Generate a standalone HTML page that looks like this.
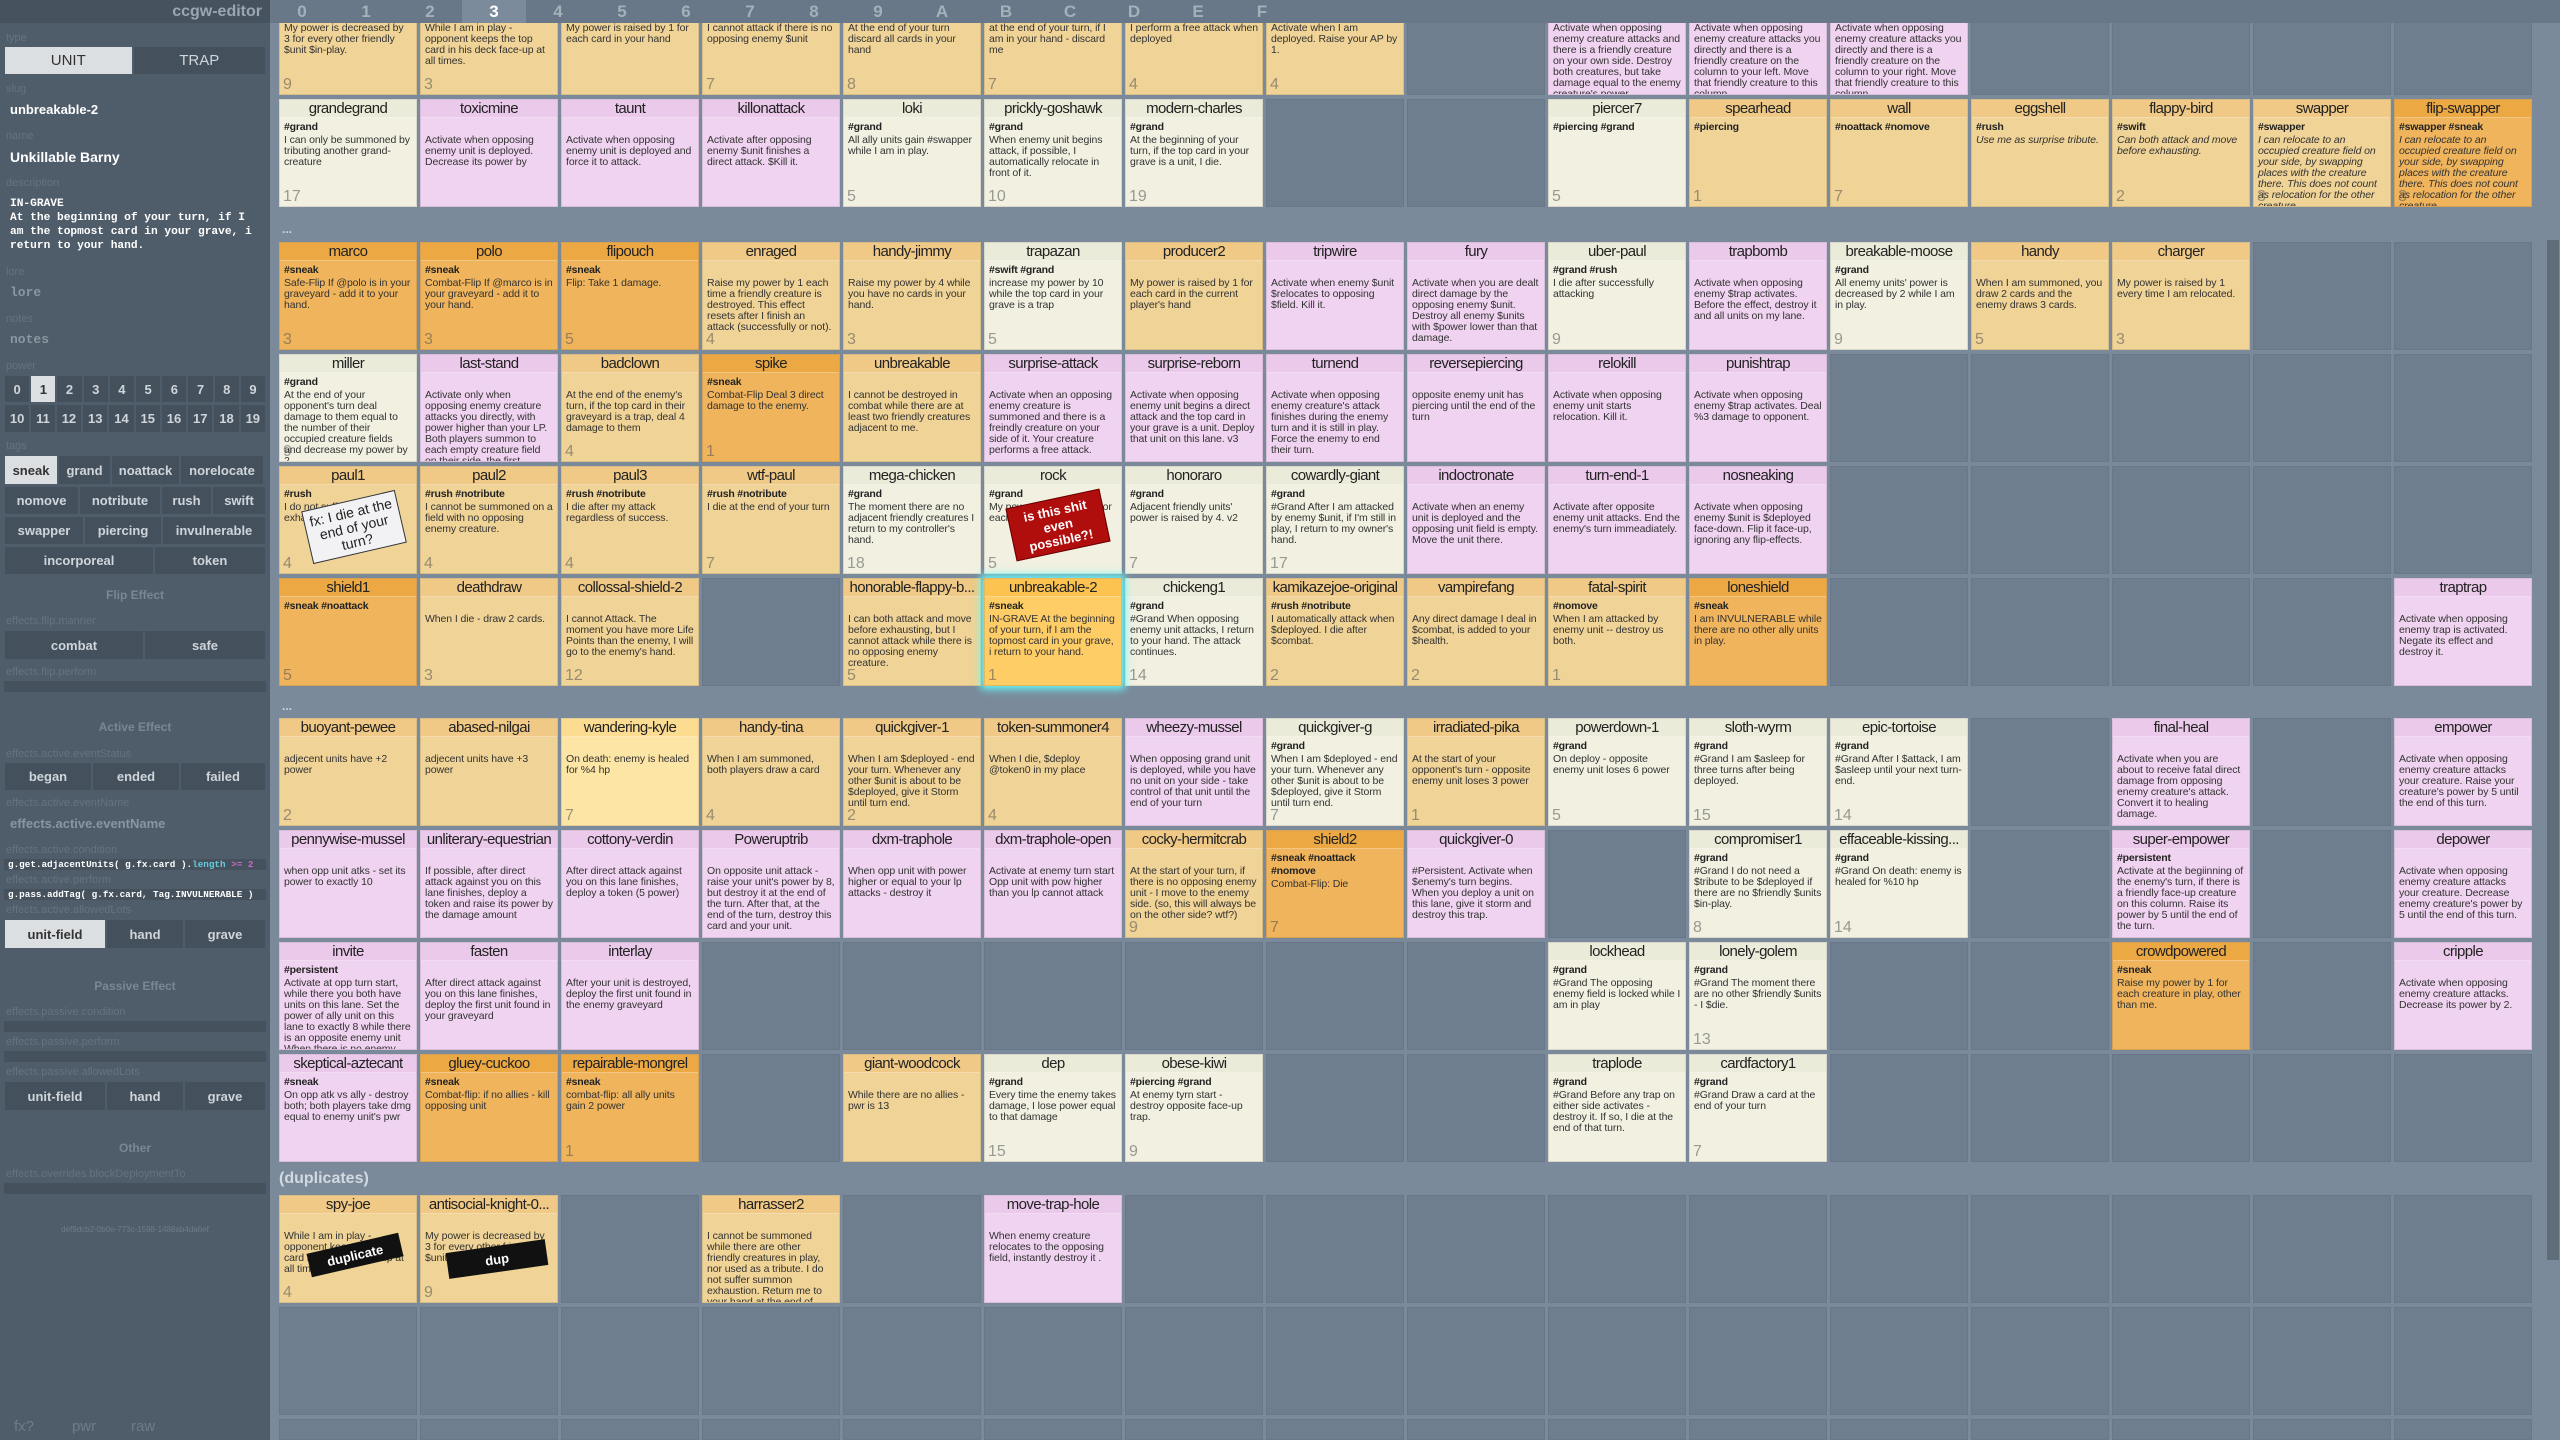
<!DOCTYPE html>
<html style="width:2560px;height:1440px;overflow:hidden"><head><meta charset="utf-8">
<style>
*{box-sizing:border-box;margin:0;padding:0}
body{width:2560px;height:1440px;overflow:hidden;background:#7a8a9a;font-family:"Liberation Sans",sans-serif;position:relative}
#side{position:absolute;left:0;top:0;width:270px;height:1440px;background:#4f5c69;color:#fff;overflow:hidden;z-index:4}
#side .l{position:absolute;left:6px;font-size:11px;color:#66737f}
#side .h{position:absolute;left:0;width:270px;text-align:center;font-size:12px;font-weight:bold;color:#7b8793}
.btns{position:absolute;left:5px;width:260px;display:flex;gap:2px}
.btns div{background:#44505c;color:#cfd5db;font-weight:bold;font-size:13px;display:flex;align-items:center;justify-content:center;flex:1 1 auto}
.btns div.on{background:#dcdfe2;color:#333}
.bar{position:absolute;left:4px;width:262px;height:11px;background:#45515d;font-family:"Liberation Mono",monospace;font-size:9.3px;font-weight:bold;color:#fff;line-height:11px;padding-left:4px;white-space:pre;overflow:hidden}
#hdr{position:absolute;left:0;top:0;width:2560px;height:23px;background:#687888;z-index:5}
#hdr .lt{position:absolute;left:0;top:0;width:270px;height:23px;background:#46525e;color:#9aa6b1;font-weight:bold;font-size:16px;text-align:right;padding-right:8px;line-height:23px}
#hdr .n{position:absolute;top:0;width:64px;height:23px;text-align:center;line-height:23px;font-weight:bold;font-size:17px;color:#a4b0bb}
#hdr .n.on{background:#7b8b9b;color:#fff}
.sec{position:absolute;left:279px;display:grid;grid-template-columns:repeat(16,138px);column-gap:3px;row-gap:4px;grid-auto-rows:108px}
.sec i{display:block;background:#6e7e8e;border:1px solid #687888}
.c{position:relative;overflow:hidden;border:1px solid rgba(0,0,0,.1);color:#222}
.c b{display:block;height:18px;line-height:18px;text-align:center;font-size:15px;font-weight:normal;white-space:nowrap;overflow:hidden;letter-spacing:-.6px;border-bottom:1px solid rgba(255,255,255,.35)}
.c u{display:block;text-decoration:none;font-size:10.5px;font-weight:bold;height:13px;line-height:13px;padding:2px 4px 0;margin-top:1px;letter-spacing:-.2px}
.c span{display:block;font-size:10.5px;line-height:11px;padding:3px 4px 0;color:#333;letter-spacing:-.1px}
.c em{position:absolute;left:3px;bottom:0;font-style:normal;font-size:16px;color:rgba(80,80,80,.55);line-height:18px}
.a{background:#f0d396}.a b{background:#efc985}
.o{background:#efb45c}.o b{background:#eca843}
.k{background:#f1f0e1}.k b{background:#ebebd9}
.p{background:#f0d3f0}.p b{background:#ebc9eb}
.y{background:#fde5a5}.y b{background:#fcdc90}
.s{background:#ffcd66;box-shadow:0 0 8px 3px #6ff;z-index:2}.s b{background:#fcc350}
.it span{font-style:italic}
.dots{position:absolute;left:282px;color:#cdd4db;font-size:12px;font-weight:bold}
.note{position:absolute;z-index:3;display:flex;align-items:center;justify-content:center;text-align:center;line-height:15px}
</style></head><body>

<div id="hdr">
<div class="lt">ccgw-editor</div>
<div class="n" style="left:270px">0</div><div class="n" style="left:334px">1</div><div class="n" style="left:398px">2</div><div class="n on" style="left:462px">3</div><div class="n" style="left:526px">4</div><div class="n" style="left:590px">5</div><div class="n" style="left:654px">6</div><div class="n" style="left:718px">7</div><div class="n" style="left:782px">8</div><div class="n" style="left:846px">9</div><div class="n" style="left:910px">A</div><div class="n" style="left:974px">B</div><div class="n" style="left:1038px">C</div><div class="n" style="left:1102px">D</div><div class="n" style="left:1166px">E</div><div class="n" style="left:1230px">F</div>
</div>

<div id="side">
<div class="l" style="top:32px">type</div>
<div class="btns" style="top:47px;height:27px"><div class="on" style="width:126px;font-weight:normal;font-size:15px">UNIT</div><div style="width:131px;font-weight:normal;font-size:15px">TRAP</div></div>
<div class="l" style="top:83px">slug</div>
<div style="position:absolute;left:10px;top:102px;font-size:13px;font-weight:bold">unbreakable-2</div>
<div class="l" style="top:130px">name</div>
<div style="position:absolute;left:10px;top:149px;font-size:14px;font-weight:bold">Unkillable Barny</div>
<div class="l" style="top:177px">description</div>
<div style="position:absolute;left:10px;top:197px;font-family:'Liberation Mono',monospace;font-weight:bold;font-size:11.2px;line-height:14px;white-space:pre">IN-GRAVE
At the beginning of your turn, if I
am the topmost card in your grave, i
return to your hand.</div>
<div class="l" style="top:266px">lore</div>
<div style="position:absolute;left:10px;top:285px;font-family:'Liberation Mono',monospace;font-weight:bold;font-size:13px;color:#8a96a1">lore</div>
<div class="l" style="top:313px">notes</div>
<div style="position:absolute;left:10px;top:332px;font-family:'Liberation Mono',monospace;font-weight:bold;font-size:13px;color:#8a96a1">notes</div>
<div class="l" style="top:360px">power</div>
<div class="btns" style="top:376px;height:26px"><div>0</div><div class="on">1</div><div>2</div><div>3</div><div>4</div><div>5</div><div>6</div><div>7</div><div>8</div><div>9</div></div>
<div class="btns" style="top:405px;height:27px"><div>10</div><div>11</div><div>12</div><div>13</div><div>14</div><div>15</div><div>16</div><div>17</div><div>18</div><div>19</div></div>
<div class="l" style="top:440px">tags</div>
<div class="btns" style="top:456px;height:28px"><div class="on" style="width:52px;flex:none">sneak</div><div style="width:51px;flex:none">grand</div><div style="width:67px;flex:none">noattack</div><div style="width:82px;flex:none">norelocate</div></div>
<div class="btns" style="top:487px;height:27px"><div style="width:73px;flex:none">nomove</div><div style="width:80px;flex:none">notribute</div><div style="width:49px;flex:none">rush</div><div style="width:52px;flex:none">swift</div></div>
<div class="btns" style="top:517px;height:27px"><div style="width:78px;flex:none">swapper</div><div style="width:76px;flex:none">piercing</div><div style="width:102px;flex:none">invulnerable</div></div>
<div class="btns" style="top:547px;height:27px"><div style="width:148px;flex:none">incorporeal</div><div style="width:110px;flex:none">token</div></div>
<div class="h" style="top:588px">Flip Effect</div>
<div class="l" style="top:615px">effects.flip.manner</div>
<div class="btns" style="top:631px;height:28px"><div style="width:138px;flex:none">combat</div><div style="width:120px;flex:none">safe</div></div>
<div class="l" style="top:666px">effects.flip.perform</div>
<div class="bar" style="top:681px"></div>
<div class="h" style="top:720px">Active Effect</div>
<div class="l" style="top:748px">effects.active.eventStatus</div>
<div class="btns" style="top:763px;height:27px"><div style="width:86px;flex:none">began</div><div style="width:86px;flex:none">ended</div><div style="width:84px;flex:none">failed</div></div>
<div class="l" style="top:797px">effects.active.eventName</div>
<div style="position:absolute;left:10px;top:816px;font-size:13px;font-weight:bold;color:#8a96a1">effects.active.eventName</div>
<div class="l" style="top:844px">effects.active.condition</div>
<div class="bar" style="top:859px">g.get.adjacentUnits( g.fx.card ).<span style="color:#6cd">length</span> <span style="color:#c6c">&gt;= 2</span></div>
<div class="l" style="top:874px">effects.active.perform</div>
<div class="bar" style="top:889px">g.pass.addTag( g.fx.card, Tag.INVULNERABLE )</div>
<div class="l" style="top:904px">effects.active.allowedLots</div>
<div class="btns" style="top:920px;height:28px"><div class="on" style="width:100px;flex:none">unit-field</div><div style="width:76px;flex:none">hand</div><div style="width:80px;flex:none">grave</div></div>
<div class="h" style="top:979px">Passive Effect</div>
<div class="l" style="top:1006px">effects.passive.condition</div>
<div class="bar" style="top:1021px"></div>
<div class="l" style="top:1036px">effects.passive.perform</div>
<div class="bar" style="top:1051px"></div>
<div class="l" style="top:1066px">effects.passive.allowedLots</div>
<div class="btns" style="top:1082px;height:28px"><div style="width:100px;flex:none">unit-field</div><div style="width:76px;flex:none">hand</div><div style="width:80px;flex:none">grave</div></div>
<div class="h" style="top:1141px">Other</div>
<div class="l" style="top:1168px">effects.overrides.blockDeploymentTo</div>
<div class="bar" style="top:1183px"></div>
<div style="position:absolute;left:0;width:270px;top:1225px;text-align:center;font-size:8px;color:#6f7c88">def9dcb2-0b0e-773c-1598-1488ab4da6ef</div>
<div style="position:absolute;left:14px;top:1418px;font-size:15px;line-height:18px;color:#6f7c88">fx?</div>
<div style="position:absolute;left:72px;top:1418px;font-size:15px;line-height:18px;color:#6f7c88">pwr</div>
<div style="position:absolute;left:131px;top:1418px;font-size:15px;line-height:18px;color:#6f7c88">raw</div>
</div>

<!-- section 1 -->
<div class="sec" style="top:-13px">
<div class="c a"><b>lonely</b><u></u><span>My power is decreased by 3 for every other friendly $unit $in-play.</span><em>9</em></div>
<div class="c a"><b>spy</b><u></u><span>While I am in play - opponent keeps the top card in his deck face-up at all times.</span><em>3</em></div>
<div class="c a"><b>hoarder</b><u></u><span>My power is raised by 1 for each card in your hand</span></div>
<div class="c a"><b>coward</b><u></u><span>I cannot attack if there is no opposing enemy $unit</span><em>7</em></div>
<div class="c a"><b>discarder</b><u></u><span>At the end of your turn discard all cards in your hand</span><em>8</em></div>
<div class="c a"><b>selfdiscard</b><u></u><span>at the end of your turn, if I am in your hand - discard me</span><em>7</em></div>
<div class="c a"><b>charger2</b><u></u><span>I perform a free attack when deployed</span><em>4</em></div>
<div class="c a"><b>apper</b><u></u><span>Activate when I am deployed. Raise your AP by 1.</span><em>4</em></div>
<i></i>
<div class="c p"><b>martyr</b><u></u><span>Activate when opposing enemy creature attacks and there is a friendly creature on your own side. Destroy both creatures, but take damage equal to the enemy creature's power.</span></div>
<div class="c p"><b>leftmove</b><u></u><span>Activate when opposing enemy creature attacks you directly and there is a friendly creature on the column to your left. Move that friendly creature to this column.</span></div>
<div class="c p"><b>rightmove</b><u></u><span>Activate when opposing enemy creature attacks you directly and there is a friendly creature on the column to your right. Move that friendly creature to this column.</span></div>
<i></i><i></i><i></i><i></i>

<div class="c k"><b>grandegrand</b><u>#grand</u><span>I can only be summoned by tributing another grand-creature</span><em>17</em></div>
<div class="c p"><b>toxicmine</b><u></u><span>Activate when opposing enemy unit is deployed. Decrease its power by</span></div>
<div class="c p"><b>taunt</b><u></u><span>Activate when opposing enemy unit is deployed and force it to attack.</span></div>
<div class="c p"><b>killonattack</b><u></u><span>Activate after opposing enemy $unit finishes a direct attack. $Kill it.</span></div>
<div class="c k"><b>loki</b><u>#grand</u><span>All ally units gain #swapper while I am in play.</span><em>5</em></div>
<div class="c k"><b>prickly-goshawk</b><u>#grand</u><span>When enemy unit begins attack, if possible, I automatically relocate in front of it.</span><em>10</em></div>
<div class="c k"><b>modern-charles</b><u>#grand</u><span>At the beginning of your turn, if the top card in your grave is a unit, I die.</span><em>19</em></div>
<i></i><i></i>
<div class="c k"><b>piercer7</b><u>#piercing #grand</u><span></span><em>5</em></div>
<div class="c a"><b>spearhead</b><u>#piercing</u><span></span><em>1</em></div>
<div class="c a"><b>wall</b><u>#noattack #nomove</u><span></span><em>7</em></div>
<div class="c a it"><b>eggshell</b><u>#rush</u><span>Use me as surprise tribute.</span></div>
<div class="c a it"><b>flappy-bird</b><u>#swift</u><span>Can both attack and move before exhausting.</span><em>2</em></div>
<div class="c a it"><b>swapper</b><u>#swapper</u><span>I can relocate to an occupied creature field on your side, by swapping places with the creature there. This does not count as relocation for the other creature.</span><em>3</em></div>
<div class="c o it"><b>flip-swapper</b><u>#swapper #sneak</u><span>I can relocate to an occupied creature field on your side, by swapping places with the creature there. This does not count as relocation for the other creature.</span><em>3</em></div>
</div>

<div class="dots" style="top:222px">...</div>

<!-- section 2 -->
<div class="sec" style="top:242px">
<div class="c o"><b>marco</b><u>#sneak</u><span>Safe-Flip If @polo is in your graveyard - add it to your hand.</span><em>3</em></div>
<div class="c o"><b>polo</b><u>#sneak</u><span>Combat-Flip If @marco is in your graveyard - add it to your hand.</span><em>3</em></div>
<div class="c o"><b>flipouch</b><u>#sneak</u><span>Flip: Take 1 damage.</span><em>5</em></div>
<div class="c a"><b>enraged</b><u></u><span>Raise my power by 1 each time a friendly creature is destroyed. This effect resets after I finish an attack (successfully or not).</span><em>4</em></div>
<div class="c a"><b>handy-jimmy</b><u></u><span>Raise my power by 4 while you have no cards in your hand.</span><em>3</em></div>
<div class="c k"><b>trapazan</b><u>#swift #grand</u><span>increase my power by 10 while the top card in your grave is a trap</span><em>5</em></div>
<div class="c a"><b>producer2</b><u></u><span>My power is raised by 1 for each card in the current player's hand</span></div>
<div class="c p"><b>tripwire</b><u></u><span>Activate when enemy $unit $relocates to opposing $field. Kill it.</span></div>
<div class="c p"><b>fury</b><u></u><span>Activate when you are dealt direct damage by the opposing enemy $unit. Destroy all enemy $units with $power lower than that damage.</span></div>
<div class="c k"><b>uber-paul</b><u>#grand #rush</u><span>I die after successfully attacking</span><em>9</em></div>
<div class="c p"><b>trapbomb</b><u></u><span>Activate when opposing enemy $trap activates. Before the effect, destroy it and all units on my lane.</span></div>
<div class="c k"><b>breakable-moose</b><u>#grand</u><span>All enemy units' power is decreased by 2 while I am in play.</span><em>9</em></div>
<div class="c a"><b>handy</b><u></u><span>When I am summoned, you draw 2 cards and the enemy draws 3 cards.</span><em>5</em></div>
<div class="c a"><b>charger</b><u></u><span>My power is raised by 1 every time I am relocated.</span><em>3</em></div>
<i></i><i></i>

<div class="c k"><b>miller</b><u>#grand</u><span>At the end of your opponent's turn deal damage to them equal to the number of their occupied creature fields and decrease my power by 2.</span><em>9</em></div>
<div class="c p"><b>last-stand</b><u></u><span>Activate only when opposing enemy creature attacks you directly, with power higher than your LP. Both players summon to each empty creature field on their side, the first creature they can from their</span></div>
<div class="c a"><b>badclown</b><u></u><span>At the end of the enemy's turn, if the top card in their graveyard is a trap, deal 4 damage to them</span><em>4</em></div>
<div class="c o"><b>spike</b><u>#sneak</u><span>Combat-Flip Deal 3 direct damage to the enemy.</span><em>1</em></div>
<div class="c a"><b>unbreakable</b><u></u><span>I cannot be destroyed in combat while there are at least two friendly creatures adjacent to me.</span></div>
<div class="c p"><b>surprise-attack</b><u></u><span>Activate when an opposing enemy creature is summoned and there is a freindly creature on your side of it. Your creature performs a free attack.</span></div>
<div class="c p"><b>surprise-reborn</b><u></u><span>Activate when opposing enemy unit begins a direct attack and the top card in your grave is a unit. Deploy that unit on this lane. v3</span></div>
<div class="c p"><b>turnend</b><u></u><span>Activate when opposing enemy creature's attack finishes during the enemy turn and it is still in play. Force the enemy to end their turn.</span></div>
<div class="c p"><b>reversepiercing</b><u></u><span>opposite enemy unit has piercing until the end of the turn</span></div>
<div class="c p"><b>relokill</b><u></u><span>Activate when opposing enemy unit starts relocation. Kill it.</span></div>
<div class="c p"><b>punishtrap</b><u></u><span>Activate when opposing enemy $trap activates. Deal %3 damage to opponent.</span></div>
<i></i><i></i><i></i><i></i><i></i>

<div class="c a"><b>paul1</b><u>#rush</u><span>I do not suffer summon exhaustion.</span><em>4</em></div>
<div class="c a"><b>paul2</b><u>#rush #notribute</u><span>I cannot be summoned on a field with no opposing enemy creature.</span><em>4</em></div>
<div class="c a"><b>paul3</b><u>#rush #notribute</u><span>I die after my attack regardless of success.</span><em>4</em></div>
<div class="c a"><b>wtf-paul</b><u>#rush #notribute</u><span>I die at the end of your turn</span><em>7</em></div>
<div class="c k"><b>mega-chicken</b><u>#grand</u><span>The moment there are no adjacent friendly creatures I return to my controller's hand.</span><em>18</em></div>
<div class="c k"><b>rock</b><u>#grand</u><span>My power is raised by 1 for each moment</span><em>5</em></div>
<div class="c k"><b>honoraro</b><u>#grand</u><span>Adjacent friendly units' power is raised by 4. v2</span><em>7</em></div>
<div class="c k"><b>cowardly-giant</b><u>#grand</u><span>#Grand After I am attacked by enemy $unit, if I'm still in play, I return to my owner's hand.</span><em>17</em></div>
<div class="c p"><b>indoctronate</b><u></u><span>Activate when an enemy unit is deployed and the opposing unit field is empty. Move the unit there.</span></div>
<div class="c p"><b>turn-end-1</b><u></u><span>Activate after opposite enemy unit attacks. End the enemy's turn immeadiately.</span></div>
<div class="c p"><b>nosneaking</b><u></u><span>Activate when opposing enemy $unit is $deployed face-down. Flip it face-up, ignoring any flip-effects.</span></div>
<i></i><i></i><i></i><i></i><i></i>

<div class="c o"><b>shield1</b><u>#sneak #noattack</u><span></span><em>5</em></div>
<div class="c a"><b>deathdraw</b><u></u><span>When I die - draw 2 cards.</span><em>3</em></div>
<div class="c a"><b>collossal-shield-2</b><u></u><span>I cannot Attack. The moment you have more Life Points than the enemy, I will go to the enemy's hand.</span><em>12</em></div>
<i></i>
<div class="c a"><b>honorable-flappy-b...</b><u></u><span>I can both attack and move before exhausting, but I cannot attack while there is no opposing enemy creature.</span><em>5</em></div>
<div class="c s"><b>unbreakable-2</b><u>#sneak</u><span>IN-GRAVE At the beginning of your turn, if I am the topmost card in your grave, i return to your hand.</span><em>1</em></div>
<div class="c k"><b>chickeng1</b><u>#grand</u><span>#Grand When opposing enemy unit attacks, I return to your hand. The attack continues.</span><em>14</em></div>
<div class="c a"><b>kamikazejoe-original</b><u>#rush #notribute</u><span>I automatically attack when $deployed. I die after $combat.</span><em>2</em></div>
<div class="c a"><b>vampirefang</b><u></u><span>Any direct damage I deal in $combat, is added to your $health.</span><em>2</em></div>
<div class="c a"><b>fatal-spirit</b><u>#nomove</u><span>When I am attacked by enemy unit -- destroy us both.</span><em>1</em></div>
<div class="c o"><b>loneshield</b><u>#sneak</u><span>I am INVULNERABLE while there are no other ally units in play.</span></div>
<i></i><i></i><i></i><i></i>
<div class="c p"><b>traptrap</b><u></u><span>Activate when opposing enemy trap is activated. Negate its effect and destroy it.</span></div>
</div>

<div class="dots" style="top:699px">...</div>

<!-- section 3 -->
<div class="sec" style="top:718px">
<div class="c a"><b>buoyant-pewee</b><u></u><span>adjecent units have +2 power</span><em>2</em></div>
<div class="c a"><b>abased-nilgai</b><u></u><span>adjecent units have +3 power</span></div>
<div class="c y"><b>wandering-kyle</b><u></u><span>On death: enemy is healed for %4 hp</span><em>7</em></div>
<div class="c a"><b>handy-tina</b><u></u><span>When I am summoned, both players draw a card</span><em>4</em></div>
<div class="c a"><b>quickgiver-1</b><u></u><span>When I am $deployed - end your turn. Whenever any other $unit is about to be $deployed, give it Storm until turn end.</span><em>2</em></div>
<div class="c a"><b>token-summoner4</b><u></u><span>When I die, $deploy @token0 in my place</span><em>4</em></div>
<div class="c p"><b>wheezy-mussel</b><u></u><span>When opposing grand unit is deployed, while you have no unit on your side - take control of that unit until the end of your turn</span></div>
<div class="c k"><b>quickgiver-g</b><u>#grand</u><span>When I am $deployed - end your turn. Whenever any other $unit is about to be $deployed, give it Storm until turn end.</span><em>7</em></div>
<div class="c a"><b>irradiated-pika</b><u></u><span>At the start of your opponent's turn - opposite enemy unit loses 3 power</span><em>1</em></div>
<div class="c k"><b>powerdown-1</b><u>#grand</u><span>On deploy - opposite enemy unit loses 6 power</span><em>5</em></div>
<div class="c k"><b>sloth-wyrm</b><u>#grand</u><span>#Grand I am $asleep for three turns after being deployed.</span><em>15</em></div>
<div class="c k"><b>epic-tortoise</b><u>#grand</u><span>#Grand After I $attack, I am $asleep until your next turn-end.</span><em>14</em></div>
<i></i>
<div class="c p"><b>final-heal</b><u></u><span>Activate when you are about to receive fatal direct damage from opposing enemy creature's attack. Convert it to healing damage.</span></div>
<i></i>
<div class="c p"><b>empower</b><u></u><span>Activate when opposing enemy creature attacks your creature. Raise your creature's power by 5 until the end of this turn.</span></div>

<div class="c p"><b>pennywise-mussel</b><u></u><span>when opp unit atks - set its power to exactly 10</span></div>
<div class="c p"><b>unliterary-equestrian</b><u></u><span>If possible, after direct attack against you on this lane finishes, deploy a token and raise its power by the damage amount</span></div>
<div class="c p"><b>cottony-verdin</b><u></u><span>After direct attack against you on this lane finishes, deploy a token (5 power)</span></div>
<div class="c p"><b>Poweruptrib</b><u></u><span>On opposite unit attack - raise your unit's power by 8, but destroy it at the end of the turn. After that, at the end of the turn, destroy this card and your unit.</span></div>
<div class="c p"><b>dxm-traphole</b><u></u><span>When opp unit with power higher or equal to your lp attacks - destroy it</span></div>
<div class="c p"><b>dxm-traphole-open</b><u></u><span>Activate at enemy turn start Opp unit with pow higher than you lp cannot attack</span></div>
<div class="c a"><b>cocky-hermitcrab</b><u></u><span>At the start of your turn, if there is no opposing enemy unit - I move to the enemy side. (so, this will always be on the other side? wtf?)</span><em>9</em></div>
<div class="c o"><b>shield2</b><u style="height:26px">#sneak #noattack #nomove</u><span>Combat-Flip: Die</span><em>7</em></div>
<div class="c p"><b>quickgiver-0</b><u></u><span>#Persistent. Activate when $enemy's turn begins. When you deploy a unit on this lane, give it storm and destroy this trap.</span></div>
<i></i>
<div class="c k"><b>compromiser1</b><u>#grand</u><span>#Grand I do not need a $tribute to be $deployed if there are no $friendly $units $in-play.</span><em>8</em></div>
<div class="c k"><b>effaceable-kissing...</b><u>#grand</u><span>#Grand On death: enemy is healed for %10 hp</span><em>14</em></div>
<i></i>
<div class="c p"><b>super-empower</b><u>#persistent</u><span>Activate at the begiinning of the enemy's turn, if there is a friendly face-up creature on this column. Raise its power by 5 until the end of the turn.</span></div>
<i></i>
<div class="c p"><b>depower</b><u></u><span>Activate when opposing enemy creature attacks your creature. Decrease enemy creature's power by 5 until the end of this turn.</span></div>

<div class="c p"><b>invite</b><u>#persistent</u><span>Activate at opp turn start, while there you both have units on this lane. Set the power of ally unit on this lane to exactly 8 while there is an opposite enemy unit When there is no enemy unit on this lane</span></div>
<div class="c p"><b>fasten</b><u></u><span>After direct attack against you on this lane finishes, deploy the first unit found in your graveyard</span></div>
<div class="c p"><b>interlay</b><u></u><span>After your unit is destroyed, deploy the first unit found in the enemy graveyard</span></div>
<i></i><i></i><i></i><i></i><i></i><i></i>
<div class="c k"><b>lockhead</b><u>#grand</u><span>#Grand The opposing enemy field is locked while I am in play</span></div>
<div class="c k"><b>lonely-golem</b><u>#grand</u><span>#Grand The moment there are no other $friendly $units - I $die.</span><em>13</em></div>
<i></i><i></i>
<div class="c o"><b>crowdpowered</b><u>#sneak</u><span>Raise my power by 1 for each creature in play, other than me.</span></div>
<i></i>
<div class="c p"><b>cripple</b><u></u><span>Activate when opposing enemy creature attacks. Decrease its power by 2.</span></div>

<div class="c p"><b>skeptical-aztecant</b><u>#sneak</u><span>On opp atk vs ally - destroy both; both players take dmg equal to enemy unit's pwr</span></div>
<div class="c o"><b>gluey-cuckoo</b><u>#sneak</u><span>Combat-flip: if no allies - kill opposing unit</span></div>
<div class="c o"><b>repairable-mongrel</b><u>#sneak</u><span>combat-flip: all ally units gain 2 power</span><em>1</em></div>
<i></i>
<div class="c a"><b>giant-woodcock</b><u></u><span>While there are no allies - pwr is 13</span></div>
<div class="c k"><b>dep</b><u>#grand</u><span>Every time the enemy takes damage, I lose power equal to that damage</span><em>15</em></div>
<div class="c k"><b>obese-kiwi</b><u>#piercing #grand</u><span>At enemy tyrn start - destroy opposite face-up trap.</span><em>9</em></div>
<i></i><i></i>
<div class="c k"><b>traplode</b><u>#grand</u><span>#Grand Before any trap on either side activates - destroy it. If so, I die at the end of that turn.</span></div>
<div class="c k"><b>cardfactory1</b><u>#grand</u><span>#Grand Draw a card at the end of your turn</span><em>7</em></div>
<i></i><i></i><i></i><i></i><i></i>
</div>

<div style="position:absolute;left:279px;top:1170px;font-size:16px;font-weight:bold;color:#d3d9df">(duplicates)</div>

<div class="sec" style="top:1195px">
<div class="c a"><b>spy-joe</b><u></u><span>While I am in play - opponent keeps the top card in his deck face-up at all times.</span><em>4</em></div>
<div class="c a"><b>antisocial-knight-0...</b><u></u><span>My power is decreased by 3 for every other friendly $unit $in-play.</span><em>9</em></div>
<i></i>
<div class="c a"><b>harrasser2</b><u></u><span>I cannot be summoned while there are other friendly creatures in play, nor used as a tribute. I do not suffer summon exhaustion. Return me to your hand at the end of your turn.</span></div>
<i></i>
<div class="c p"><b>move-trap-hole</b><u></u><span>When enemy creature relocates to the opposing field, instantly destroy it .</span></div>
<i></i><i></i><i></i><i></i><i></i><i></i><i></i><i></i><i></i><i></i>
<i></i><i></i><i></i><i></i><i></i><i></i><i></i><i></i><i></i><i></i><i></i><i></i><i></i><i></i><i></i><i></i>
</div>
<div class="sec" style="top:1419px;grid-auto-rows:21px">
<i></i><i></i><i></i><i></i><i></i><i></i><i></i><i></i><i></i><i></i><i></i><i></i><i></i><i></i><i></i><i></i>
</div>

<!-- overlays -->
<div class="note" style="left:306px;top:500px;width:96px;height:54px;background:#f2f2f4;border:1px solid #333;transform:rotate(-13deg);font-size:14px;color:#222">fx: I die at the<br>end of your<br>turn?</div>
<div class="note" style="left:1010px;top:498px;width:96px;height:54px;background:#b00d0d;border:1px solid #600;transform:rotate(-12deg);font-size:13px;font-weight:bold;color:#fff">is this shit<br>even<br>possible?!</div>
<div class="note" style="left:308px;top:1243px;width:94px;height:24px;background:#111;transform:rotate(-13deg);font-size:13px;font-weight:bold;color:#fff">duplicate</div>
<div class="note" style="left:447px;top:1246px;width:100px;height:26px;background:#111;transform:rotate(-8deg);font-size:13px;font-weight:bold;color:#fff">dup</div>

<div style="position:absolute;left:2547px;top:240px;width:12px;height:1020px;background:#5f6d7b"></div>
</body></html>
